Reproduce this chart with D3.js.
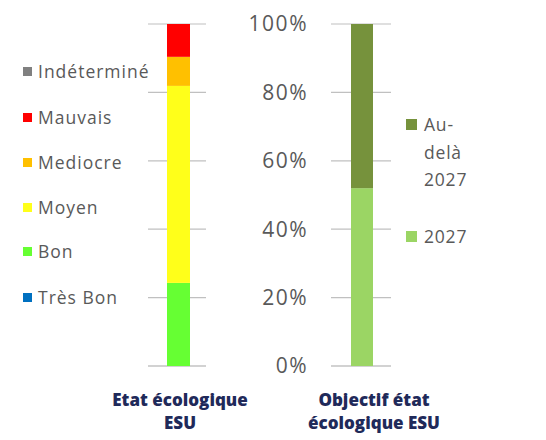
<!DOCTYPE html>
<html lang="fr">
<head>
<meta charset="UTF-8">
<script src="https://d3js.org/d3.v7.min.js"></script>
<style>
  body { margin: 0; background: white; }
  text { font-family: "Open Sans", sans-serif; }
</style>
</head>
<body>
<script>
  const w = 546;
  const h = 440;

  // data
  const etatCategories = ["Très Bon", "Bon", "Moyen", "Mediocre", "Mauvais", "Indéterminé"];
  const etatValues = [0, 24.3, 57.6, 8.5, 9.6, 0];
  const etatColors = ["#0070C0", "#66FF33", "#FFFF1A", "#FFC000", "#FF0000", "#808080"];

  const objectifCategories = ["2027", "Au-delà 2027"];
  const objectifValues = [52, 48];
  const objectifColors = ["#9BD564", "#76923C"];

  const yTicks = [0, 20, 40, 60, 80, 100];
  const xLabels = [["Etat écologique", "ESU"], ["Objectif état", "écologique ESU"]];

  const svg = d3.select("body").append("svg")
    .attr("width", w)
    .attr("height", h);

  const yScale = d3.scaleLinear().domain([0, 100]).range([366, 24]);

  // stacking helper
  function stack(values) {
    let acc = 0;
    return values.map(v => { const s = acc; acc += v; return [s, acc]; });
  }

  function drawPanel(x0, x1, barX, barW, values, colors) {
    const g = svg.append("g");
    g.selectAll("line.grid")
      .data(yTicks)
      .enter()
      .append("line")
      .attr("x1", x0).attr("x2", x1)
      .attr("y1", d => yScale(d)).attr("y2", d => yScale(d))
      .attr("stroke", d => d === 0 ? "#a6a6a6" : "#c0c0c0")
      .attr("stroke-width", 1.2);
    g.selectAll("rect")
      .data(stack(values))
      .enter()
      .append("rect")
      .attr("x", barX)
      .attr("width", barW)
      .attr("y", d => yScale(d[1]))
      .attr("height", d => yScale(d[0]) - yScale(d[1]))
      .attr("fill", (d, i) => colors[i]);
  }

  drawPanel(148, 206, 167, 23, etatValues, etatColors);
  drawPanel(331, 391, 351, 22, objectifValues, objectifColors);

  // y axis labels (between the panels)
  svg.append("g").selectAll("text")
    .data(yTicks)
    .enter()
    .append("text")
    .attr("x", 308)
    .attr("y", d => yScale(d))
    .attr("dy", "0.35em")
    .attr("text-anchor", "end")
    .style("font-size", "21px")
    .style("letter-spacing", "1.5px")
    .style("fill", "#595959")
    .text(d => d + "%");

  // left legend
  const legendLeft = svg.append("g");
  const legendY = [298, 252, 208, 163, 118, 72];
  etatCategories.forEach((c, i) => {
    legendLeft.append("rect")
      .attr("x", 23).attr("y", legendY[i] - 5)
      .attr("width", 9).attr("height", 9)
      .attr("fill", etatColors[i]);
    legendLeft.append("text")
      .attr("x", 38).attr("y", legendY[i])
      .attr("dy", "0.35em")
      .style("font-size", "17.5px")
      .style("letter-spacing", "1px")
      .style("fill", "#595959")
      .text(c);
  });

  // right legend
  const legendRight = svg.append("g");
  const rightLines = [["2027"], ["Au-", "delà", "2027"]];
  const rightY = [237, 125];
  objectifCategories.forEach((c, i) => {
    legendRight.append("rect")
      .attr("x", 406).attr("y", rightY[i] - 6)
      .attr("width", 11).attr("height", 11)
      .attr("fill", objectifColors[i]);
    rightLines[i].forEach((t, j) => {
      legendRight.append("text")
        .attr("x", 424).attr("y", rightY[i] + j * 27.5)
        .attr("dy", "0.35em")
        .style("font-size", "17.5px")
        .style("letter-spacing", "0.8px")
        .style("fill", "#595959")
        .text(t);
    });
  });

  // category labels
  const xCenters = [180, 374];
  xLabels.forEach((lines, i) => {
    lines.forEach((t, j) => {
      svg.append("text")
        .attr("x", xCenters[i])
        .attr("y", 400 + j * 23)
        .attr("dy", "0.35em")
        .attr("text-anchor", "middle")
        .style("font-size", "17px")
        .style("font-weight", "800")
        .style("fill", "#1F2A5A")
        .text(t);
    });
  });
</script>
</body>
</html>
